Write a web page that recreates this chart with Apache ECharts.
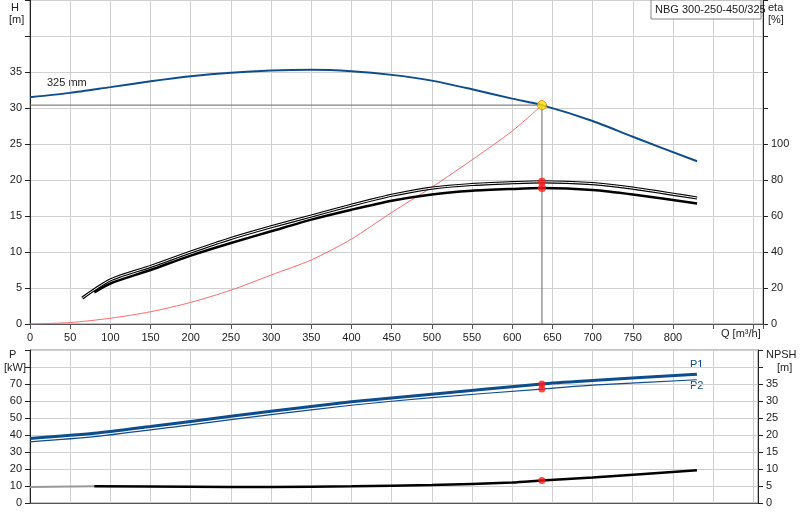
<!DOCTYPE html>
<html><head><meta charset="utf-8">
<script src="https://cdn.jsdelivr.net/npm/echarts@6/dist/echarts.min.js"></script>
<style>html,body{margin:0;padding:0;background:#fff}#c{width:800px;height:520px}</style>
</head><body><div id="c"></div>
<script>
const headCurve=[[0,31.5],[50,32.1],[100,32.9],[150,33.7],[200,34.4],[250,34.9],[300,35.2],[350,35.3],[400,35.1],[450,34.6],[500,33.8],[550,32.6],[600,31.3],[637,30.4],[700,28.2],[750,26.0],[830,22.6]];
const etaUpper=[[65,14.4],[100,24.5],[150,32],[200,40],[250,47.5],[300,54],[350,60],[400,66],[450,71.5],[500,75.5],[550,77.5],[600,78.5],[637,79],[700,78],[750,75.5],[830,70]];
const etaLower=[[80,17.6],[100,22.5],[150,30],[200,38],[250,45],[300,51.5],[350,58],[400,63.5],[450,68.5],[500,72],[550,74],[600,75],[637,75.5],[700,74.5],[750,72],[830,67]];
const systemCurve=[[0,0],[50,0.2],[100,0.8],[150,1.7],[200,3],[250,4.7],[300,6.8],[350,8.9],[400,11.8],[450,15.5],[500,19],[550,22.8],[600,26.8],[637,30.4]];
const p1=[[0,38],[80,41],[150,45],[200,48],[300,54],[400,59.5],[500,64],[637,70],[700,72],[830,75.8]];
const p2=[[0,36],[80,39],[200,46],[300,52],[400,57.5],[500,62],[637,67],[700,69.3],[830,72.5]];
const npshLow=[[0,4.7],[80,4.9]];
const npsh=[[80,4.9],[200,4.8],[300,4.7],[400,4.9],[500,5.3],[600,6.0],[637,6.6],[700,7.5],[830,9.6]];
const duty={q:637,h:30.4,etaU:79,etaL:75.5,p1:70,p2:67,npsh:6.6};
const F='Liberation Sans, Arial, sans-serif';
const ch=echarts.init(document.getElementById('c'));
const gl={show:true,lineStyle:{color:'#d0d0d0',width:1}};
const lab={fontSize:11,color:'#222',fontFamily:F};
const line=(name,x,y,data,color,w,z)=>({name,type:'line',xAxisIndex:x,yAxisIndex:y,data,symbol:'none',smooth:0.25,lineStyle:{color,width:w},z:z||2,silent:true});
ch.setOption({
animation:false,
grid:[{left:30,right:37,top:0,height:324,show:true,borderColor:'#888',borderWidth:1},
      {left:30,right:42,top:350,height:153,show:true,borderColor:'#888',borderWidth:1}],
xAxis:[{type:'value',gridIndex:0,min:0,max:912,interval:50,splitLine:gl,axisLine:{lineStyle:{color:'#555'}},axisTick:{show:true,lineStyle:{color:'#555'}},axisLabel:Object.assign({},lab,{formatter:v=>v>800?'':v})},
       {type:'value',gridIndex:1,min:0,max:906,interval:50,splitLine:gl,axisLine:{lineStyle:{color:'#555'}},axisTick:{show:false},axisLabel:{show:false}}],
yAxis:[{type:'value',gridIndex:0,min:0,max:45,interval:5,splitLine:gl,axisLine:{show:true,lineStyle:{color:'#222'}},axisTick:{show:true,lineStyle:{color:'#222'}},axisLabel:Object.assign({},lab,{formatter:v=>v>35?'':v})},
       {type:'value',gridIndex:0,position:'right',min:0,max:180,interval:20,splitLine:{show:false},axisLine:{show:true,lineStyle:{color:'#222'}},axisTick:{show:true,lineStyle:{color:'#222'}},axisLabel:Object.assign({},lab,{formatter:v=>v>100?'':v})},
       {type:'value',gridIndex:1,min:0,max:90,interval:10,splitLine:gl,axisLine:{show:true,lineStyle:{color:'#222'}},axisTick:{show:true,lineStyle:{color:'#222'}},axisLabel:Object.assign({},lab,{formatter:v=>v>70?'':v})},
       {type:'value',gridIndex:1,position:'right',min:0,max:45,interval:5,splitLine:{show:false},axisLine:{show:true,lineStyle:{color:'#222'}},axisTick:{show:true,lineStyle:{color:'#222'}},axisLabel:Object.assign({},lab,{formatter:v=>v>35?'':v})}],
series:[
 line('H',0,0,headCurve,'#0d4d8c',2,3),
 line('sys',0,0,systemCurve,'#ff6a6a',1,2),
 {type:'line',xAxisIndex:0,yAxisIndex:0,data:[[0,duty.h],[duty.q,duty.h],[duty.q,0]],symbol:'none',lineStyle:{color:'#666',width:1},z:1,silent:true},
 line('etaU',0,1,etaUpper,'#000',3.2,3),
 line('etaUi',0,1,etaUpper,'#fff',1,4),
 line('etaL',0,1,etaLower,'#000',2.5,3),
 {type:'scatter',xAxisIndex:0,yAxisIndex:1,data:[[duty.q,duty.etaU],[duty.q,duty.etaL]],symbolSize:8,itemStyle:{color:'#ff1a1a'},z:6},
 {type:'scatter',xAxisIndex:0,yAxisIndex:0,data:[[duty.q,duty.h]],symbolSize:9,itemStyle:{color:'#ffe000',borderColor:'#e08000',borderWidth:1},z:6},
 line('P1',1,2,p1,'#0d4d8c',3,3),
 line('P2',1,2,p2,'#0d4d8c',1.2,3),
 line('NPSHlow',1,3,npshLow,'#999',2,3),
 line('NPSH',1,3,npsh,'#000',2.5,3),
 {type:'scatter',xAxisIndex:1,yAxisIndex:2,data:[[duty.q,duty.p1],[duty.q,duty.p2]],symbolSize:7,itemStyle:{color:'#ff1a1a'},z:6},
 {type:'scatter',xAxisIndex:1,yAxisIndex:3,data:[[duty.q,duty.npsh]],symbolSize:7,itemStyle:{color:'#ff1a1a'},z:6}
],
graphic:[
 {type:'text',left:11,top:2,style:{text:'H',font:'11px '+F,fill:'#222'}},
 {type:'text',left:9,top:14,style:{text:'[m]',font:'11px '+F,fill:'#222'}},
 {type:'text',left:768,top:2,style:{text:'eta',font:'11px '+F,fill:'#222'}},
 {type:'text',left:768,top:14,style:{text:'[%]',font:'11px '+F,fill:'#222'}},
 {type:'rect',shape:{x:651,y:0,width:110,height:19},style:{fill:'#fff',stroke:'#888'},z:10},
 {type:'text',left:655,top:4,z:11,style:{text:'NBG 300-250-450/325',font:'11px '+F,fill:'#222'}},
 {type:'text',left:47,top:77,style:{text:'325 mm',font:'11px '+F,fill:'#222'}},
 {type:'text',left:721,top:328,style:{text:'Q [m³/h]',font:'11px '+F,fill:'#222'}},
 {type:'text',left:9,top:349,style:{text:'P',font:'11px '+F,fill:'#222'}},
 {type:'text',left:4,top:362,style:{text:'[kW]',font:'11px '+F,fill:'#222'}},
 {type:'text',left:766,top:349,style:{text:'NPSH',font:'11px '+F,fill:'#222'}},
 {type:'text',left:777,top:362,style:{text:'[m]',font:'11px '+F,fill:'#222'}},
 {type:'text',left:690,top:359,style:{text:'P1',font:'11px '+F,fill:'#0d4d8c'}},
 {type:'text',left:690,top:380,style:{text:'P2',font:'11px '+F,fill:'#0d4d8c'}}
]
});
</script></body></html>
